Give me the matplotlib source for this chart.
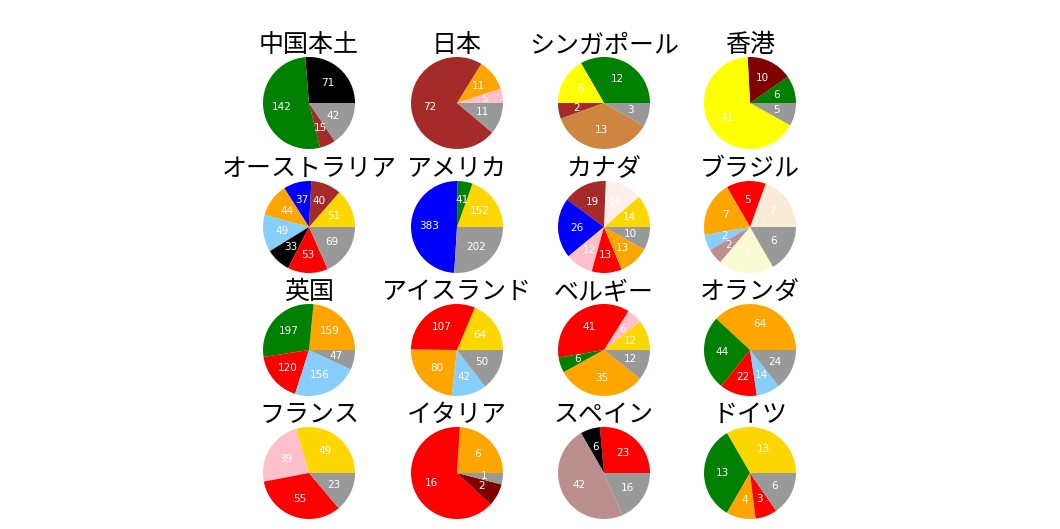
import matplotlib
matplotlib.use('Agg')
import matplotlib.pyplot as plt

plt.rcParams['font.family'] = ['Noto Sans CJK JP', 'DejaVu Sans']

GRAY = '#999999'

# ---------------- data (slices counter-clockwise from 3 o'clock) ----------------
names = ['中国本土', '日本', 'シンガポール', '香港',
         'オーストラリア', 'アメリカ', 'カナダ', 'ブラジル',
         '英国', 'アイスランド', 'ベルギー', 'オランダ',
         'フランス', 'イタリア', 'スペイン', 'ドイツ']

china = [71, 142, 15, 42]
china_c = ['black', 'green', 'brown', GRAY]
japan = [5, 11, 72, 11]
japan_c = ['pink', 'orange', 'brown', GRAY]
singapore = [12, 6, 2, 13, 3]
singapore_c = ['green', 'yellow', 'brown', 'peru', GRAY]
hongkong = [6, 10, 41, 5]
hongkong_c = ['green', 'maroon', 'yellow', GRAY]

australia = [51, 40, 37, 44, 49, 33, 53, 69]
australia_c = ['gold', 'brown', 'blue', 'orange', 'lightskyblue', 'black', 'red', GRAY]
usa = [152, 41, 383, 202]
usa_c = ['gold', 'green', 'blue', GRAY]
canada = [14, 16, 19, 26, 12, 13, 13, 10]
canada_c = ['gold', '#fdeeea', 'brown', 'blue', 'pink', 'red', 'orange', GRAY]
brazil = [7, 5, 7, 2, 2, 7, 6]
brazil_c = ['antiquewhite', 'red', 'orange', 'lightskyblue', 'rosybrown',
            'lightgoldenrodyellow', GRAY]

uk = [159, 197, 120, 156, 47]
uk_c = ['orange', 'green', 'red', 'lightskyblue', GRAY]
iceland = [64, 107, 80, 42, 50]
iceland_c = ['gold', 'red', 'orange', 'lightskyblue', GRAY]
belgium = [12, 6, 41, 6, 35, 12]
belgium_c = ['gold', 'pink', 'red', 'green', 'orange', GRAY]
netherlands = [64, 44, 22, 14, 24]
netherlands_c = ['orange', 'green', 'red', 'lightskyblue', GRAY]

france = [49, 39, 55, 23]
france_c = ['gold', 'pink', 'red', GRAY]
italy = [6, 16, 2, 1]
italy_c = ['orange', 'red', 'maroon', GRAY]
spain = [23, 6, 42, 16]
spain_c = ['red', 'black', 'rosybrown', GRAY]
germany = [13, 13, 4, 3, 6]
germany_c = ['gold', 'green', 'orange', 'red', GRAY]

values = [china, japan, singapore, hongkong,
          australia, usa, canada, brazil,
          uk, iceland, belgium, netherlands,
          france, italy, spain, germany]
colors = [china_c, japan_c, singapore_c, hongkong_c,
          australia_c, usa_c, canada_c, brazil_c,
          uk_c, iceland_c, belgium_c, netherlands_c,
          france_c, italy_c, spain_c, germany_c]

# ---------------- layout (pixels) ----------------
W, H = 1060, 529
col_x = [309, 457, 604, 750]
row_y = [103, 227, 350, 473]
size = 115

fig = plt.figure(figsize=(W / 100, H / 100), dpi=100)


def make_autopct(vals):
    total = sum(vals)
    return lambda p: '{:.0f}'.format(p * total / 100)


for i, (name, vals, cols) in enumerate(zip(names, values, colors)):
    cx = col_x[i % 4]
    cy = row_y[i // 4]
    ax = fig.add_axes([(cx - size / 2) / W, 1 - (cy + size / 2) / H, size / W, size / H])
    ax.pie(vals, colors=cols, autopct=make_autopct(vals),
           textprops={'color': 'white', 'fontsize': 7.5, 'family': 'DejaVu Sans'})
    ax.text(0.5, 0.94, name, transform=ax.transAxes, ha='center', va='baseline',
            fontsize=18)

plt.savefig('out.png', dpi=100)
